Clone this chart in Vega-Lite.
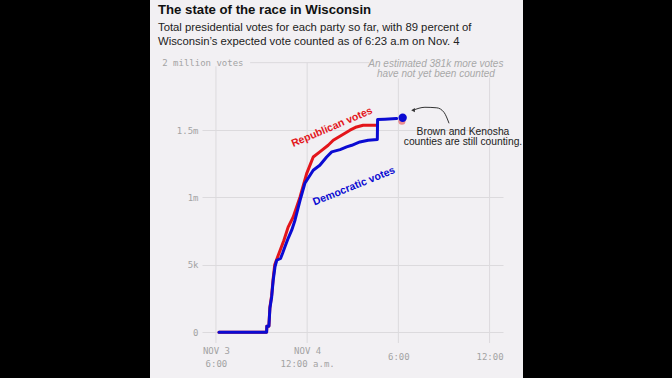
{
  "$schema": "https://vega.github.io/schema/vega-lite/v6.json",
  "background": "#f2f0f3",
  "padding": 0,
  "spacing": 0,
  "config": {"view": {"stroke": null}},
  "datasets": {
    "dem": [
      {"t":"2020-11-03T18:12:00Z","v":0},
      {"t":"2020-11-03T21:20:00Z","v":0},
      {"t":"2020-11-03T21:21:00Z","v":45000},
      {"t":"2020-11-03T21:29:00Z","v":45000},
      {"t":"2020-11-03T21:33:00Z","v":178000},
      {"t":"2020-11-03T21:40:00Z","v":262000},
      {"t":"2020-11-03T21:46:00Z","v":386000},
      {"t":"2020-11-03T21:53:00Z","v":484000},
      {"t":"2020-11-03T22:00:00Z","v":534000},
      {"t":"2020-11-03T22:15:00Z","v":547000},
      {"t":"2020-11-03T22:23:00Z","v":586000},
      {"t":"2020-11-03T22:32:00Z","v":633000},
      {"t":"2020-11-03T22:45:00Z","v":697000},
      {"t":"2020-11-03T22:59:00Z","v":757000},
      {"t":"2020-11-03T23:12:00Z","v":831000},
      {"t":"2020-11-03T23:32:00Z","v":979000},
      {"t":"2020-11-03T23:51:00Z","v":1105000},
      {"t":"2020-11-04T00:24:00Z","v":1202000},
      {"t":"2020-11-04T00:50:00Z","v":1239000},
      {"t":"2020-11-04T01:17:00Z","v":1300000},
      {"t":"2020-11-04T01:37:00Z","v":1338000},
      {"t":"2020-11-04T02:10:00Z","v":1355000},
      {"t":"2020-11-04T02:36:00Z","v":1375000},
      {"t":"2020-11-04T02:56:00Z","v":1387000},
      {"t":"2020-11-04T03:28:00Z","v":1412000},
      {"t":"2020-11-04T04:01:00Z","v":1424000},
      {"t":"2020-11-04T04:37:00Z","v":1430000},
      {"t":"2020-11-04T04:38:00Z","v":1578000},
      {"t":"2020-11-04T05:07:00Z","v":1580000},
      {"t":"2020-11-04T05:53:00Z","v":1585000}
    ],
    "rep": [
      {"t":"2020-11-03T18:12:00Z","v":0},
      {"t":"2020-11-03T21:20:00Z","v":0},
      {"t":"2020-11-03T21:21:00Z","v":45000},
      {"t":"2020-11-03T21:29:00Z","v":45000},
      {"t":"2020-11-03T21:33:00Z","v":185000},
      {"t":"2020-11-03T21:40:00Z","v":275000},
      {"t":"2020-11-03T21:46:00Z","v":400000},
      {"t":"2020-11-03T21:52:00Z","v":500000},
      {"t":"2020-11-03T22:06:00Z","v":571000},
      {"t":"2020-11-03T22:28:00Z","v":680000},
      {"t":"2020-11-03T22:45:00Z","v":780000},
      {"t":"2020-11-03T23:05:00Z","v":855000},
      {"t":"2020-11-03T23:32:00Z","v":1004000},
      {"t":"2020-11-03T23:58:00Z","v":1177000},
      {"t":"2020-11-04T00:24:00Z","v":1300000},
      {"t":"2020-11-04T00:50:00Z","v":1338000},
      {"t":"2020-11-04T01:23:00Z","v":1387000},
      {"t":"2020-11-04T01:43:00Z","v":1424000},
      {"t":"2020-11-04T02:16:00Z","v":1461000},
      {"t":"2020-11-04T02:49:00Z","v":1499000},
      {"t":"2020-11-04T03:15:00Z","v":1523000},
      {"t":"2020-11-04T03:41:00Z","v":1536000},
      {"t":"2020-11-04T04:34:00Z","v":1536000}
    ],
    "gridx": [
      {"t":"2020-11-03T18:00:00Z","v":-80000,"v2":1973000},
      {"t":"2020-11-04T00:00:00Z","v":-80000,"v2":2000000},
      {"t":"2020-11-04T06:00:00Z","v":-80000,"v2":1884000},
      {"t":"2020-11-04T12:00:00Z","v":-80000,"v2":1890000}
    ],
    "arrow": [
      {"t":"2020-11-04T06:58:00Z","v":1647000},
      {"t":"2020-11-04T07:45:00Z","v":1669000},
      {"t":"2020-11-04T08:32:00Z","v":1665000},
      {"t":"2020-11-04T09:00:00Z","v":1632000},
      {"t":"2020-11-04T09:20:00Z","v":1550000}
    ]
  },
  "hconcat": [
    {
      "spacing": 8,
      "hconcat": [
        {
          "width": 150,
          "height": 378,
          "view": {"fill": "#000000", "stroke": null},
          "data": {"values": [{"k": 1}]},
          "mark": {"type": "point", "opacity": 0},
          "encoding": {}
        },
        {
          "width": 301,
          "height": 343,
          "title": {
            "text": "The state of the race in Wisconsin",
            "subtitle": ["Total presidential votes for each party so far, with 89 percent of", "Wisconsin’s expected vote counted as of 6:23 a.m on Nov. 4"],
            "anchor": "start",
            "frame": "group",
            "dx": -44,
            "font": "Liberation Sans",
            "fontSize": 13.2,
            "fontWeight": "bold",
            "color": "#111111",
            "subtitleFont": "Liberation Sans",
            "subtitleFontSize": 11.3,
            "subtitleColor": "#222222",
            "subtitleLineHeight": 13.4,
            "subtitlePadding": 5.5,
            "offset": -48
          },
          "encoding": {
            "x": {
              "field": "t", "type": "temporal",
              "scale": {"type": "utc", "domain": [
                {"year":2020,"month":11,"date":3,"hours":17,"minutes":5,"utc":true},
                {"year":2020,"month":11,"date":4,"hours":12,"minutes":53,"utc":true}
              ]},
              "axis": {
                "values": [
                  {"year":2020,"month":11,"date":3,"hours":18,"utc":true},
                  {"year":2020,"month":11,"date":4,"hours":0,"utc":true},
                  {"year":2020,"month":11,"date":4,"hours":6,"utc":true},
                  {"year":2020,"month":11,"date":4,"hours":12,"utc":true}
                ],
                "title": null, "domain": false, "ticks": false, "tickSize": 0, "grid": false,
                "labelExpr": "utcdate(datum.value) == 3 ? ['NOV 3', '6:00'] : (utchours(datum.value) == 0 ? ['NOV 4', '12:00 a.m.'] : (utchours(datum.value) == 6 ? '6:00' : '12:00'))",
                "labelBaseline": "middle",
                "labelAlign": "center",
                "labelLineHeight": 12.5,
                "labelPadding": {"condition": {"test": "utchours(datum.value) == 18 || utchours(datum.value) == 0", "value": 7.5}, "value": 13},
                "labelFlush": false,
                "labelOverlap": false,
                "labelBound": false,
                "labelFont": "DejaVu Sans Mono",
                "labelFontSize": 9,
                "labelColor": "#a3a3a3"
              }
            },
            "y": {
              "field": "v", "type": "quantitative",
              "scale": {"domain": [-80000, 2465000], "nice": false, "zero": false},
              "axis": {
                "values": [0, 500000, 1000000, 1500000, 2000000],
                "title": null, "domain": false, "ticks": false, "tickSize": 0,
                "grid": true,
                "gridColor": {"condition": {"test": "datum.value == 2000000", "value": "transparent"}, "value": "#dcdadd"},
                "labelExpr": "datum.value == 0 ? '0' : (datum.value == 500000 ? '5k' : (datum.value == 1000000 ? '1m' : (datum.value == 1500000 ? '1.5m' : '2 million votes')))",
                "labelPadding": {"condition": {"test": "datum.value == 2000000", "value": -41}, "value": 4},
                "labelBaseline": "middle",
                "labelFont": "DejaVu Sans Mono",
                "labelFontSize": 9,
                "labelColor": "#a3a3a3"
              }
            }
          },
          "layer": [
            {
              "data": {"name": "gridx"},
              "mark": {"type": "rule", "color": "#dcdadd", "strokeWidth": 1},
              "encoding": {"y2": {"field": "v2"}}
            },
            {
              "data": {"values": [{"t":"2020-11-03T20:15:00Z","t2":"2020-11-04T04:05:00Z","v":2000000}]},
              "mark": {"type": "rule", "color": "#dcdadd", "strokeWidth": 1},
              "encoding": {"x2": {"field": "t2"}}
            },
            {
              "data": {"name": "rep"},
              "mark": {"type": "line", "color": "#e3151b", "strokeWidth": 3, "strokeJoin": "round", "strokeCap": "round"},
              "encoding": {}
            },
            {
              "data": {"name": "dem"},
              "mark": {"type": "line", "color": "#0b0bd2", "strokeWidth": 3, "strokeJoin": "round", "strokeCap": "round"},
              "encoding": {}
            },
            {
              "data": {"values": [{"t":"2020-11-04T06:14:00Z","v":1565000}]},
              "mark": {"type": "point", "filled": true, "color": "#e3151b", "opacity": 0.45, "size": 50},
              "encoding": {}
            },
            {
              "data": {"values": [{"t":"2020-11-04T06:17:00Z","v":1591000}]},
              "mark": {"type": "point", "filled": true, "color": "#0b0bd2", "opacity": 1, "size": 70},
              "encoding": {}
            },
            {
              "data": {"values": [{"t":"2020-11-04T01:38:00Z","v":1521000,"label":"Republican votes"}]},
              "mark": {"type": "text", "angle": 337, "font": "Liberation Sans", "fontWeight": "bold", "fontSize": 10.5, "color": "#e3151b", "align": "center", "baseline": "middle"},
              "encoding": {"text": {"field": "label"}}
            },
            {
              "data": {"values": [{"t":"2020-11-04T03:05:00Z","v":1083000,"label":"Democratic votes"}]},
              "mark": {"type": "text", "angle": 338, "font": "Liberation Sans", "fontWeight": "bold", "fontSize": 10.5, "color": "#0b0bd2", "align": "center", "baseline": "middle"},
              "encoding": {"text": {"field": "label"}}
            },
            {
              "data": {"values": [{"t":"2020-11-04T10:15:00Z","v":1489000,"label":["Brown and Kenosha","counties are still counting."]}]},
              "mark": {"type": "text", "font": "Liberation Sans", "fontSize": 10.3, "lineHeight": 10.2, "color": "#222222", "align": "center", "baseline": "middle"},
              "encoding": {"text": {"field": "label"}}
            },
            {
              "data": {"values": [{"t":"2020-11-04T08:28:00Z","v":1988000,"label":["An estimated 381k more votes","have not yet been counted"]}]},
              "mark": {"type": "text", "font": "Liberation Sans", "fontStyle": "italic", "fontSize": 10, "lineHeight": 10, "color": "#a8a8a8", "align": "center", "baseline": "middle"},
              "encoding": {"text": {"field": "label"}}
            },
            {
              "data": {"name": "arrow"},
              "mark": {"type": "line", "interpolate": "monotone", "color": "#333333", "strokeWidth": 1},
              "encoding": {}
            },
            {
              "data": {"values": [{"t":"2020-11-04T06:58:00Z","v":1647000}]},
              "mark": {"type": "point", "shape": "triangle-left", "filled": true, "color": "#333333", "opacity": 1, "size": 18},
              "encoding": {}
            }
          ]
        }
      ]
    },
    {
      "width": 150,
      "height": 378,
      "view": {"fill": "#000000", "stroke": null},
      "data": {"values": [{"k": 1}]},
      "mark": {"type": "point", "opacity": 0},
      "encoding": {}
    }
  ]
}
